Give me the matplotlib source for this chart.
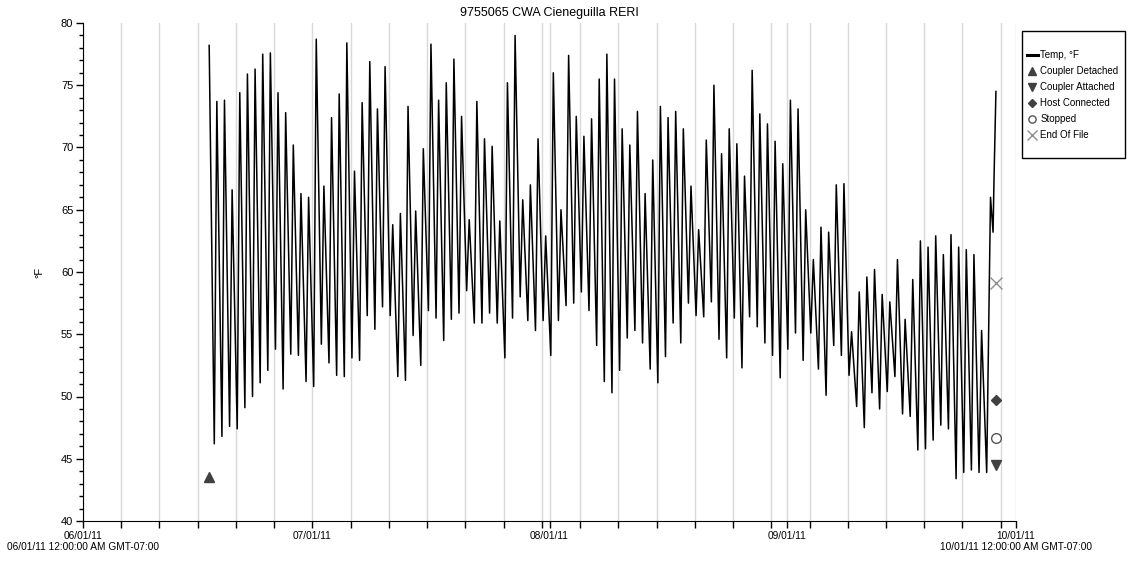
import numpy as np
import pandas as pd
import matplotlib
matplotlib.use("Agg")
import matplotlib.pyplot as plt
import matplotlib.dates as mdates
from matplotlib.lines import Line2D
from matplotlib.patches import Rectangle

plt.rcParams['font.family'] = ['Liberation Sans Narrow', 'Liberation Sans', 'DejaVu Sans']

# daily highs / lows in °F, first high on 06/17/11
daily_highs = [78.2, 73.7, 73.8, 66.6, 74.4, 75.9, 76.3, 77.5, 77.6, 74.4,
               72.8, 70.2, 66.3, 66.0, 78.7, 66.9, 72.4, 74.3, 78.4, 68.1,
               73.6, 76.9, 73.1, 76.5, 63.8, 64.7, 73.3, 64.9, 69.9, 78.3,
               73.8, 75.2, 77.1, 72.5, 64.2, 73.7, 70.7, 70.1, 64.1, 75.2,
               79.0, 65.8, 67.0, 70.7, 62.9, 76.0, 65.0, 77.4, 72.5, 70.9,
               72.3, 75.5, 77.5, 75.5, 71.5, 70.2, 72.9, 66.3, 69.0, 73.3,
               72.4, 72.9, 71.5, 66.9, 63.4, 70.6, 75.0, 69.5, 71.5, 70.3,
               67.7, 76.2, 72.7, 71.9, 70.5, 68.7, 73.8, 73.1, 65.0, 61.0,
               63.6, 63.2, 67.0, 67.1, 55.2, 58.4, 59.6, 60.2, 58.2, 57.6,
               61.0, 56.2, 59.4, 62.5, 62.0, 62.9, 61.4, 63.0, 62.0, 61.8,
               61.4, 55.3]
daily_lows = [46.2, 46.8, 47.6, 47.4, 49.1, 50.0, 51.1, 52.1, 53.8, 50.6,
              53.4, 53.3, 51.2, 50.8, 54.2, 52.7, 51.7, 51.6, 53.1, 52.9,
              56.5, 55.4, 57.2, 56.5, 51.6, 51.3, 54.9, 52.5, 56.9, 56.3,
              54.5, 56.2, 56.7, 58.5, 55.9, 55.9, 56.7, 55.9, 53.1, 56.3,
              58.0, 56.1, 55.3, 56.1, 53.3, 56.1, 57.3, 57.5, 58.4, 56.9,
              54.1, 51.2, 50.3, 52.1, 54.7, 55.3, 54.3, 52.2, 51.1, 53.2,
              55.9, 54.3, 57.5, 56.5, 56.4, 57.6, 54.6, 53.1, 56.3, 52.3,
              56.4, 55.6, 54.3, 53.3, 51.5, 53.8, 55.1, 52.9, 55.1, 52.2,
              50.1, 54.1, 53.3, 51.7, 49.2, 47.5, 50.3, 49.0, 50.4, 51.6,
              48.6, 48.4, 45.7, 45.8, 46.5, 47.7, 47.4, 43.4, 43.9, 44.1,
              43.9, 43.9]

# logger pulled out of the water at the end
tail_times = ['2011-09-27 16:00', '2011-09-28 00:00', '2011-09-28 03:00', '2011-09-28 09:00']
tail_temps = [66.0, 63.2, 67.5, 74.5]

event_names = ['Coupler Detached', 'Coupler Attached', 'Host Connected', 'Stopped', 'End Of File']
event_times = ['2011-06-17 12:00', '2011-09-28 09:00', '2011-09-28 09:00', '2011-09-28 09:00', '2011-09-28 09:00']
event_temps = [43.5, 44.5, 49.7, 46.7, 59.1]
event_markers = ['^', 'v', 'D', 'o', 'x']

first_high = pd.Timestamp('2011-06-17 12:00')
high_times = first_high + pd.to_timedelta(np.arange(len(daily_highs)), unit='D')
low_times = high_times + pd.Timedelta(hours=16)

times = []
temps = []
for ht, hv, lt, lv in zip(high_times, daily_highs, low_times, daily_lows):
    times += [ht, lt]
    temps += [hv, lv]
times += list(pd.to_datetime(tail_times))
temps += tail_temps

fig = plt.figure(figsize=(11.28, 5.71), dpi=100)
ax = fig.add_axes([83 / 1128, 1 - 521 / 571, (1016 - 83) / 1128, (521 - 23) / 571])

ax.plot(times, temps, color='black', lw=1.1, zorder=3)

def marker_style(m, scale=1.0):
    styles = {
        '^': dict(markersize=7, color='#404040'),
        'v': dict(markersize=7, color='#404040'),
        'D': dict(markersize=5, color='#404040'),
        'o': dict(markersize=7, markerfacecolor='white', markeredgecolor='#555555', color='#555555'),
        'x': dict(markersize=9, color='#909090', markeredgewidth=1.0),
    }
    st = dict(styles[m])
    st['markersize'] *= scale
    return st

for name, t, v, m in zip(event_names, event_times, event_temps, event_markers):
    ax.plot(pd.Timestamp(t), v, linestyle='none', marker=m, zorder=4, **marker_style(m))

# axes
ax.set_xlim(pd.Timestamp('2011-06-01'), pd.Timestamp('2011-10-01'))
ax.set_ylim(40, 80)
month_ticks = pd.to_datetime(['2011-06-01', '2011-07-01', '2011-08-01', '2011-09-01', '2011-10-01'])
five_day = [d for d in pd.date_range('2011-06-01', '2011-10-01', freq='5D') if d not in month_ticks]
ax.set_xticks(mdates.date2num(month_ticks))
ax.set_xticks(mdates.date2num(five_day), minor=True)
month_labels = ['06/01/11\n06/01/11 12:00:00 AM GMT-07:00', '07/01/11', '08/01/11', '09/01/11',
                '10/01/11\n10/01/11 12:00:00 AM GMT-07:00']
ax.set_xticklabels(month_labels, fontsize=7.3, linespacing=1.15)
ax.set_yticks(range(40, 81, 5))
ax.set_yticks(range(40, 81), minor=True)
ax.tick_params(axis='both', which='major', direction='out', length=5, width=1, labelsize=8, pad=2)
ax.tick_params(axis='x', which='major', labelsize=7.3)
ax.tick_params(axis='both', which='minor', direction='out', length=3, width=1)
ax.tick_params(axis='x', which='minor', length=5)
ax.grid(True, axis='x', which='both', color='#d9d9d9', lw=1)
ax.set_axisbelow(True)
for s in ['top', 'right']:
    ax.spines[s].set_visible(False)
ax.set_ylabel('°F', fontsize=8, labelpad=12)
ax.set_title('9755065 CWA Cieneguilla RERI', fontsize=9, pad=5)

# legend box drawn by hand, entries without frame
fig.add_artist(Rectangle((1022 / 1128, 1 - 158 / 571), 103 / 1128, 127 / 571,
                         transform=fig.transFigure, facecolor='white', edgecolor='black', lw=1))
handles = [Line2D([], [], color='black', lw=2.2)]
for m in event_markers:
    handles.append(Line2D([], [], linestyle='none', marker=m, **marker_style(m, 0.75)))
leg = fig.legend(handles, ['Temp, °F'] + event_names, loc='upper left',
                 bbox_to_anchor=(1027 / 1128, 1 - 50 / 571), fontsize=7.0,
                 frameon=False, handlelength=1.1, handletextpad=0.25,
                 labelspacing=0.62, borderpad=0, borderaxespad=0)

fig.savefig('out.png', dpi=100)
